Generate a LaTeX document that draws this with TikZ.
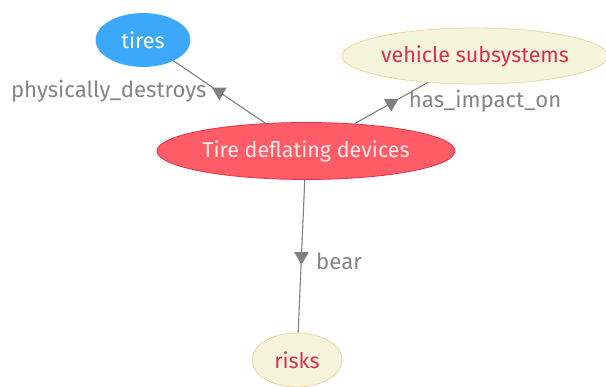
\documentclass[tikz,border=0pt]{standalone}
\usepackage{fontspec}
\setmainfont{Fira Sans}
\usetikzlibrary{shapes.geometric,positioning}
\definecolor{tireblue}{RGB}{60,168,250}
\definecolor{devred}{RGB}{255,92,104}
\definecolor{devborder}{RGB}{222,52,72}
\definecolor{devtext}{RGB}{255,232,232}
\definecolor{beige}{RGB}{247,244,220}
\definecolor{beigeborder}{RGB}{236,214,160}
\definecolor{crimson}{RGB}{214,48,80}
\definecolor{edgegray}{RGB}{128,128,128}
\definecolor{labelgray}{RGB}{132,132,132}
\tikzset{
  concept/.style={ellipse, inner sep=0pt, line width=0.8pt, font=\fontsize{21.5}{25}\selectfont},
  mainnode/.style={concept, fill=tireblue, draw=tireblue, text=white},
  focusnode/.style={concept, fill=devred, draw=devborder, text=devtext},
  plainnode/.style={concept, fill=beige, draw=beigeborder, text=crimson},
  relation/.style={draw=edgegray, line width=1.1pt},
  midmark/.style={regular polygon, regular polygon sides=3, shape border rotate=180,
    fill=edgegray, inner sep=0pt, minimum size=17pt},
  rellabel/.style={text=labelgray, font=\fontsize{22.2}{26}\selectfont, inner sep=0pt}
}
\begin{document}
\begin{tikzpicture}[x=1pt,y=-1pt]
  \useasboundingbox (0,0) rectangle (606,387);
  \node[mainnode, minimum width=94pt, minimum height=53pt] (tires) at (143,40) {tires};
  \node[plainnode, minimum width=262pt, minimum height=56pt] (veh) at (475,56) {vehicle subsystems};
  \node[focusnode, minimum width=298pt, minimum height=57pt] (tdd) at (306,151) {Tire deflating devices};
  \node[plainnode, minimum width=90pt, minimum height=54pt] (risks) at (297,360) {risks};

  \draw[relation] (tdd) -- node[midmark] (m1) {} (tires);
  \draw[relation] (tdd) -- node[midmark] (m2) {} (veh);
  \draw[relation] (tdd) -- node[midmark] (m3) {} (risks);

  \node[rellabel, anchor=east] (l1) at ([xshift=-7pt,yshift=1pt]m1.west) {physically\_destroys};
  \node[rellabel, anchor=west] (l2) at ([xshift=12pt,yshift=2pt]m2.east) {has\_impact\_on};
  \node[rellabel, anchor=west] (l3) at ([xshift=9pt,yshift=-5pt]m3.east) {bear};
\end{tikzpicture}
\end{document}
